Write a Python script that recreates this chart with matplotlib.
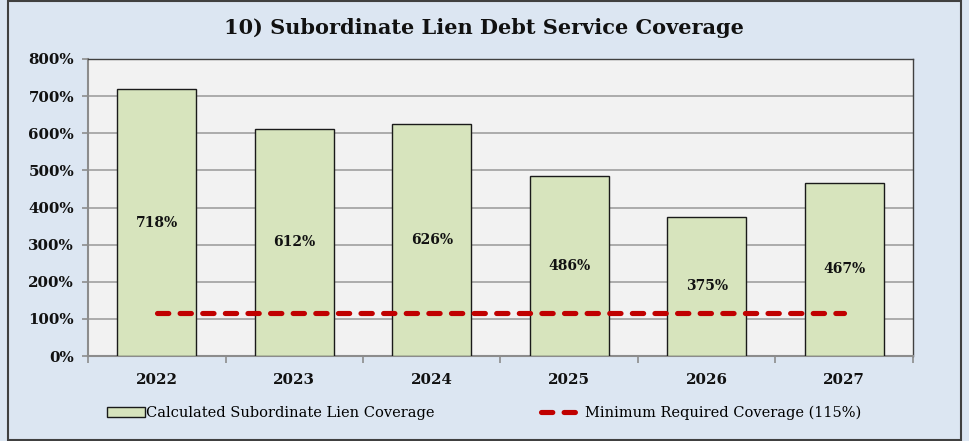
import matplotlib.pyplot as plt
from matplotlib.patches import Rectangle
from matplotlib.lines import Line2D
from matplotlib.ticker import FixedLocator, NullFormatter

# ---------------------------------- DATA ---------------------------------- #

years = ["2022", "2023", "2024", "2025", "2026", "2027"]
coverage_pct = [718, 612, 626, 486, 375, 467]
minimum_required_pct = 115
y_ticks = [0, 100, 200, 300, 400, 500, 600, 700, 800]

BG = "#DCE6F2"
PLOT_BG = "#F2F2F2"
BAR = "#D7E4BD"
RED = "#C00000"
FONT = "DejaVu Serif"
LINE_W = 3.7
DASHES = (2.2, 2.2)

# ---------------------------------- PLOT ---------------------------------- #

fig = plt.figure(figsize=(9.69, 4.41), dpi=100, facecolor=BG)
W, H = 969, 441

# outer frame
fig.patches.append(Rectangle((8 / W, 1 / H), 953 / W, 439 / H, transform=fig.transFigure,
                             facecolor="none", edgecolor="#404040", linewidth=1.5))

ax = fig.add_axes([88 / W, 1 - 356 / H, 825 / W, 297 / H])
ax.set_facecolor(PLOT_BG)

x = list(range(len(years)))
ax.bar(x, coverage_pct, width=0.575, color=BAR, edgecolor="#1a1a1a", linewidth=1.0, zorder=3)
for xi, v in zip(x, coverage_pct):
    ax.text(xi, v / 2, f"{v}%", ha="center", va="center", fontsize=10, fontweight="bold",
            family=FONT, color="#111111", zorder=5)

ax.plot([x[0], x[-1]], [minimum_required_pct] * 2, color=RED, linewidth=LINE_W,
        dashes=DASHES, dash_capstyle="round", zorder=4)

ax.set_xlim(-0.5, len(years) - 0.5)
ax.set_ylim(0, 800)
ax.set_yticks(y_ticks)
ax.set_yticklabels([f"{t}%" for t in y_ticks])
ax.grid(axis="y", color="#a0a0a0", linewidth=1.2, zorder=0)
ax.set_axisbelow(True)

ax.set_xticks(x)
ax.set_xticklabels(years)
ax.tick_params(axis="x", length=0, pad=12)
ax.xaxis.set_minor_locator(FixedLocator([i - 0.5 for i in range(len(years) + 1)]))
ax.xaxis.set_minor_formatter(NullFormatter())
ax.tick_params(axis="x", which="minor", length=5, color="#8c8c8c", width=1.2)
ax.tick_params(axis="y", length=4, color="#8c8c8c", width=1.2, pad=6)
for lbl in ax.get_xticklabels() + ax.get_yticklabels():
    lbl.set_fontfamily(FONT)
    lbl.set_fontweight("bold")
    lbl.set_fontsize(10.8)
    lbl.set_color("#111111")

for side in ["left", "bottom"]:
    ax.spines[side].set_color("#8c8c8c")
    ax.spines[side].set_linewidth(1.5)
for side in ["top", "right"]:
    ax.spines[side].set_color("#404040")
    ax.spines[side].set_linewidth(1.0)

fig.text(484 / W, 1 - 28 / H, "10) Subordinate Lien Debt Service Coverage", ha="center", va="center",
         fontsize=15, fontweight="bold", family=FONT, color="#111111")

bar_handle = Rectangle((0, 0), 1, 1, facecolor=BAR, edgecolor="#1a1a1a", linewidth=1.0)
line_handle = Line2D([], [], color=RED, linewidth=LINE_W, dashes=DASHES, dash_capstyle="round")
fig.legend([bar_handle], ["Calculated Subordinate Lien Coverage"], loc="center left",
           bbox_to_anchor=(94 / W, 1 - 413 / H), frameon=False, handlelength=2.6, handleheight=0.7,
           handletextpad=0.1, prop={"family": FONT, "size": 10.5})
fig.legend([line_handle], ["Minimum Required Coverage (115%)"], loc="center left",
           bbox_to_anchor=(528 / W, 1 - 413 / H), frameon=False, handlelength=2.6,
           handletextpad=0.4, prop={"family": FONT, "size": 10.5})

fig.savefig("out.png", dpi=100, facecolor=BG)
